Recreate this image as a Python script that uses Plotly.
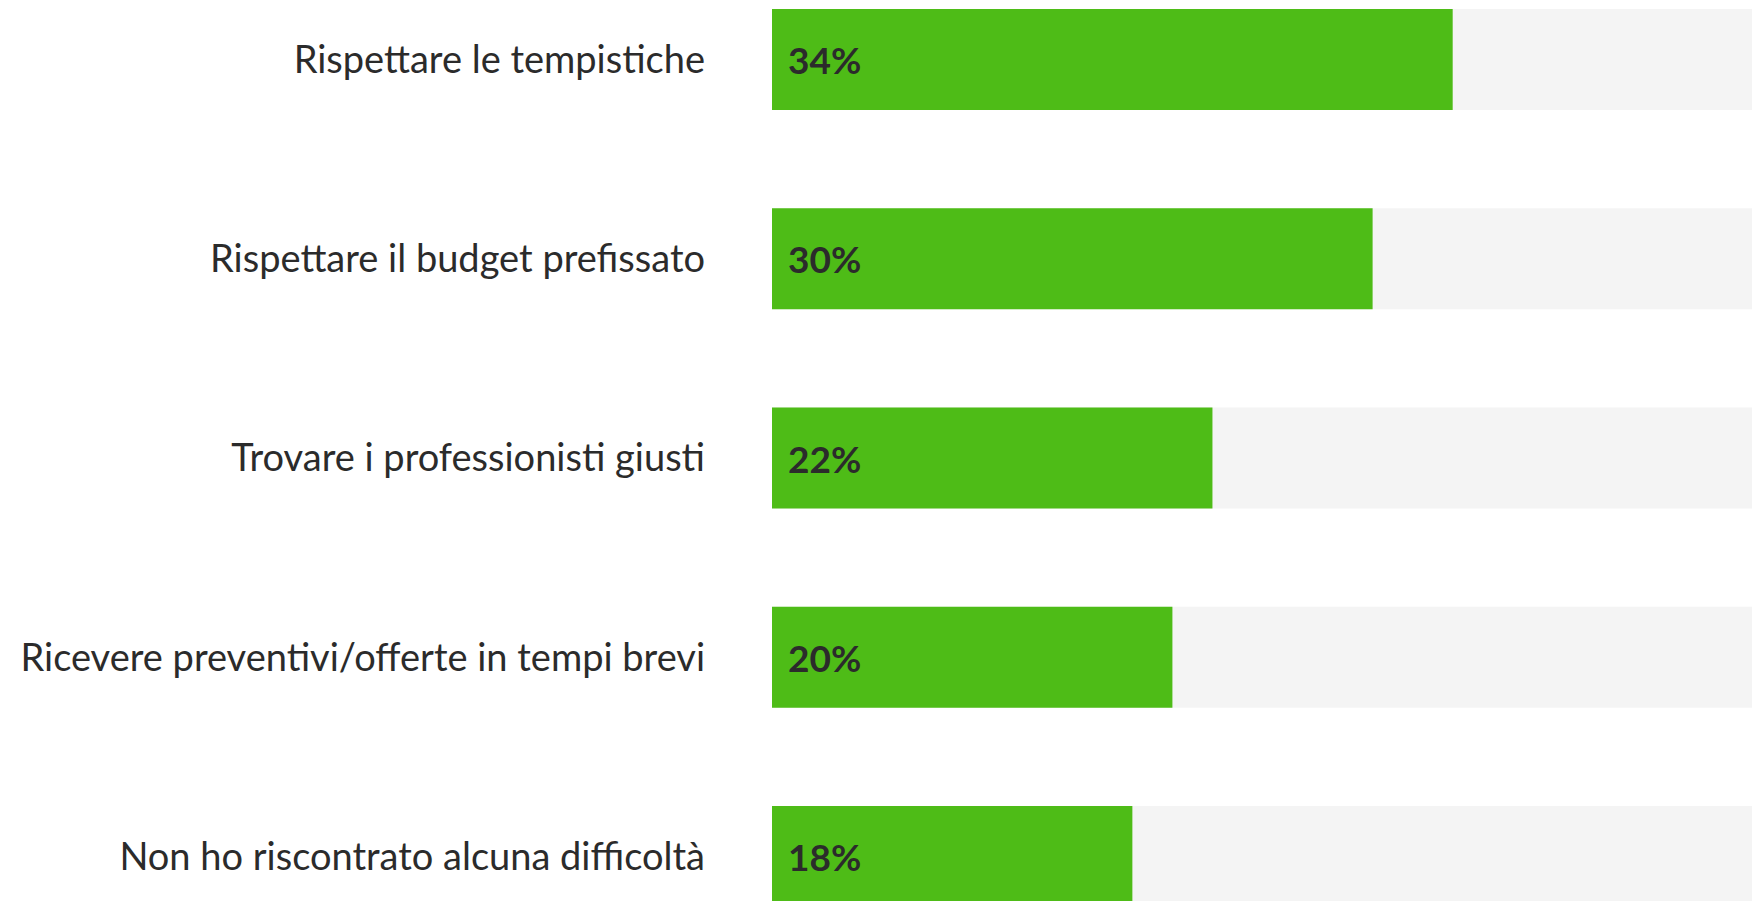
import plotly.graph_objects as go

# difficulties reported, share of respondents (%)
categories = [
    "Rispettare le tempistiche",
    "Rispettare il budget prefissato",
    "Trovare i professionisti giusti",
    "Ricevere preventivi/offerte in tempi brevi",
    "Non ho riscontrato alcuna difficoltà",
]
values = [34, 30, 22, 20, 18]
full_scale = [100] * len(categories)

GREEN = "#4ebc17"
TRACK = "#f4f4f4"
TEXT = "#2b2b2b"

fig = go.Figure()

# grey track behind each bar
fig.add_trace(go.Bar(
    y=categories, x=full_scale, orientation="h",
    marker=dict(color=TRACK, line=dict(width=0)),
    width=0.507, hoverinfo="skip", showlegend=False,
))

fig.add_trace(go.Bar(
    y=categories, x=values, orientation="h",
    marker=dict(color=GREEN, line=dict(width=0)),
    width=0.507, showlegend=False,
))

# percentage labels inside the bars
for cat, v in zip(categories, values):
    fig.add_annotation(
        x=0, y=cat, text="<b>%d%%</b>" % v,
        xanchor="left", yanchor="middle", xshift=14, showarrow=False,
        font=dict(family="Lato", size=37, color=TEXT),
    )

# page body adds an 8px offset, margins are shifted to make up for it
fig.update_layout(
    width=1760, height=901,
    barmode="overlay",
    plot_bgcolor="white", paper_bgcolor="white",
    margin=dict(l=764, r=10, t=0, b=0),
    font=dict(family="Lato", color=TEXT),
)

fig.update_xaxes(range=[0, 49.25], visible=False, fixedrange=True)
fig.update_yaxes(
    type="category", range=[4.2635, -0.2585],
    showgrid=False, zeroline=False, showline=False,
    ticks="", ticklabelstandoff=66,
    tickfont=dict(family="Lato", size=38, color=TEXT),
)

fig.write_html("out.html")
